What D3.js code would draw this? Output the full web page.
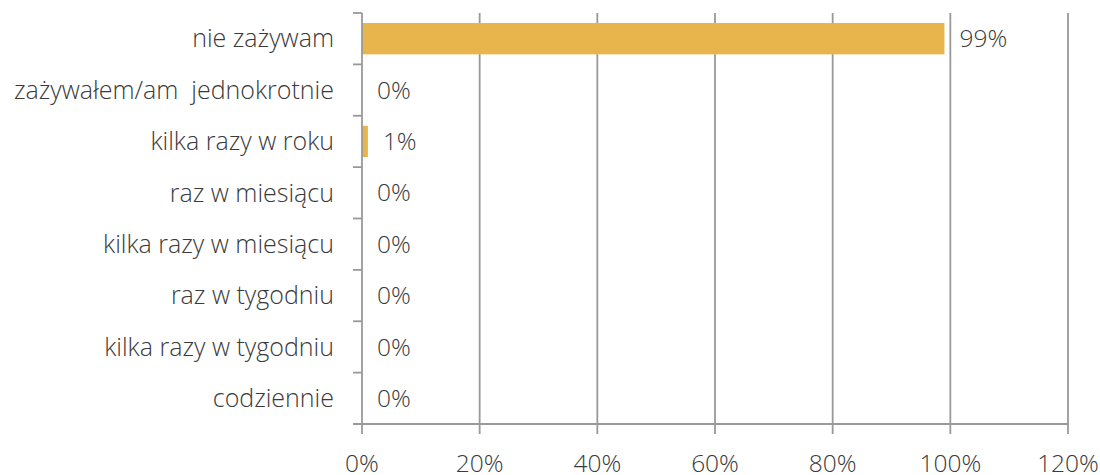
<!DOCTYPE html>
<html>
<head>
<meta charset="utf-8">
<script src="https://cdn.jsdelivr.net/npm/d3@7"></script>
<style>
  body { margin: 0; background: #fff; }
  text { font-family: "Open Sans", "Noto Sans", sans-serif; font-weight: 300; fill: #3a3a3a; white-space: pre; }
</style>
</head>
<body>
<script>
const categories = ["nie zażywam", "zażywałem/am  jednokrotnie", "kilka razy w roku", "raz w miesiącu",
  "kilka razy w miesiącu", "raz w tygodniu", "kilka razy w tygodniu", "codziennie"];
const values = [0.99, 0, 0.01, 0, 0, 0, 0, 0];
const valueLabels = ["99%", "0%", "1%", "0%", "0%", "0%", "0%", "0%"];
const xTicks = [0, 0.2, 0.4, 0.6, 0.8, 1.0, 1.2];

const width = 1100, height = 475;
const margin = {top: 13, right: 32, bottom: 51, left: 362};

const svg = d3.select('body').append('svg')
  .attr('width', width)
  .attr('height', height);

const x = d3.scaleLinear().domain([0, 1.2]).range([margin.left, width - margin.right]);
const y = d3.scaleBand().domain(categories)
  .range([margin.top, height - margin.bottom])
  .paddingInner(0.39).paddingOuter(0.195);

const grid = svg.append('g');
grid.selectAll('line.grid')
  .data(xTicks.slice(1))
  .enter().append('line')
  .attr('x1', d => x(d)).attr('x2', d => x(d))
  .attr('y1', margin.top).attr('y2', height - margin.bottom + 10)
  .attr('stroke', '#999').attr('stroke-width', 1.8);

svg.append('g').selectAll('rect')
  .data(values)
  .enter().append('rect')
  .attr('x', x(0))
  .attr('y', (d, i) => y(categories[i]))
  .attr('width', d => x(d) - x(0))
  .attr('height', y.bandwidth())
  .attr('fill', '#E8B54D');

// y axis with ticks on band boundaries
const step = y.step();
const yb = d3.range(categories.length + 1).map(i => margin.top + i * step);
const yAxis = svg.append('g');
yAxis.append('line')
  .attr('x1', x(0)).attr('x2', x(0))
  .attr('y1', margin.top).attr('y2', height - margin.bottom + 10)
  .attr('stroke', '#999').attr('stroke-width', 1.8);
yAxis.selectAll('line.tk')
  .data(yb)
  .enter().append('line')
  .attr('x1', x(0) - 9).attr('x2', x(0))
  .attr('y1', d => d).attr('y2', d => d)
  .attr('stroke', '#999').attr('stroke-width', 1.8);

// x axis line
svg.append('line')
  .attr('x1', x(0) - 9).attr('x2', x(1.2))
  .attr('y1', height - margin.bottom).attr('y2', height - margin.bottom)
  .attr('stroke', '#999').attr('stroke-width', 1.8);

svg.append('g').selectAll('text')
  .data(categories)
  .enter().append('text')
  .attr('x', x(0) - 28)
  .attr('y', d => y(d) + y.bandwidth() / 2)
  .attr('dy', '0.35em')
  .attr('text-anchor', 'end')
  .style('font-size', '25px')
  .text(d => d);

svg.append('g').selectAll('text')
  .data(values)
  .enter().append('text')
  .attr('x', d => x(d) + 15)
  .attr('y', (d, i) => y(categories[i]) + y.bandwidth() / 2)
  .attr('dy', '0.35em')
  .style('font-size', '24.5px')
  .text((d, i) => valueLabels[i]);

svg.append('g').selectAll('text')
  .data(xTicks)
  .enter().append('text')
  .attr('x', d => x(d))
  .attr('y', 472)
  .attr('text-anchor', 'middle')
  .style('font-size', '24.5px')
  .text(d => d3.format('.0%')(d));
</script>
</body>
</html>
